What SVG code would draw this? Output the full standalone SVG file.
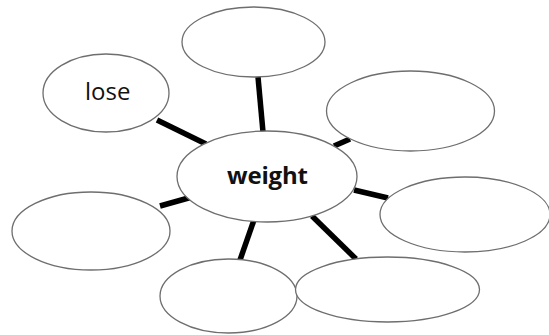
<svg xmlns="http://www.w3.org/2000/svg" width="549" height="335" viewBox="0 0 549 335">
<style>
.n{fill:#ffffff;stroke:#6e6e6e;stroke-width:1.3}
.c line{stroke:#000;stroke-width:5.5}
.t{font-family:"Open Sans","Liberation Sans",sans-serif;font-size:24px;fill:#111}
</style>
<rect width="549" height="335" fill="#fff"/>
<g id="connectors" class="c">
<line x1="258" y1="77" x2="263" y2="132"/>
<line x1="157" y1="120" x2="206" y2="144"/>
<line x1="334" y1="146" x2="350" y2="139"/>
<line x1="354" y1="190" x2="388" y2="198"/>
<line x1="160" y1="206" x2="192" y2="197"/>
<line x1="240" y1="260" x2="254" y2="220"/>
<line x1="312" y1="216" x2="356" y2="259"/>
</g>
<g id="n-top"><ellipse class="n" cx="253.5" cy="42" rx="71.5" ry="35"/></g>
<g id="n-lose"><ellipse class="n" cx="106" cy="93" rx="63" ry="39"/><text class="t" x="85" y="100">lose</text></g>
<g id="n-upright"><ellipse class="n" cx="410.5" cy="111" rx="84" ry="40"/></g>
<g id="n-right"><ellipse class="n" cx="465" cy="214.5" rx="85" ry="37.5"/></g>
<g id="n-left"><ellipse class="n" cx="91" cy="231" rx="79" ry="39"/></g>
<g id="n-botleft"><ellipse class="n" cx="228.5" cy="296" rx="68.5" ry="37"/></g>
<g id="n-botright"><ellipse class="n" cx="387.5" cy="289.5" rx="92" ry="32.5"/></g>
<g id="n-weight"><ellipse class="n" cx="267" cy="176.5" rx="90" ry="45.5"/><text class="t" x="227" y="184" font-weight="bold" textLength="81">weight</text></g>
</svg>
